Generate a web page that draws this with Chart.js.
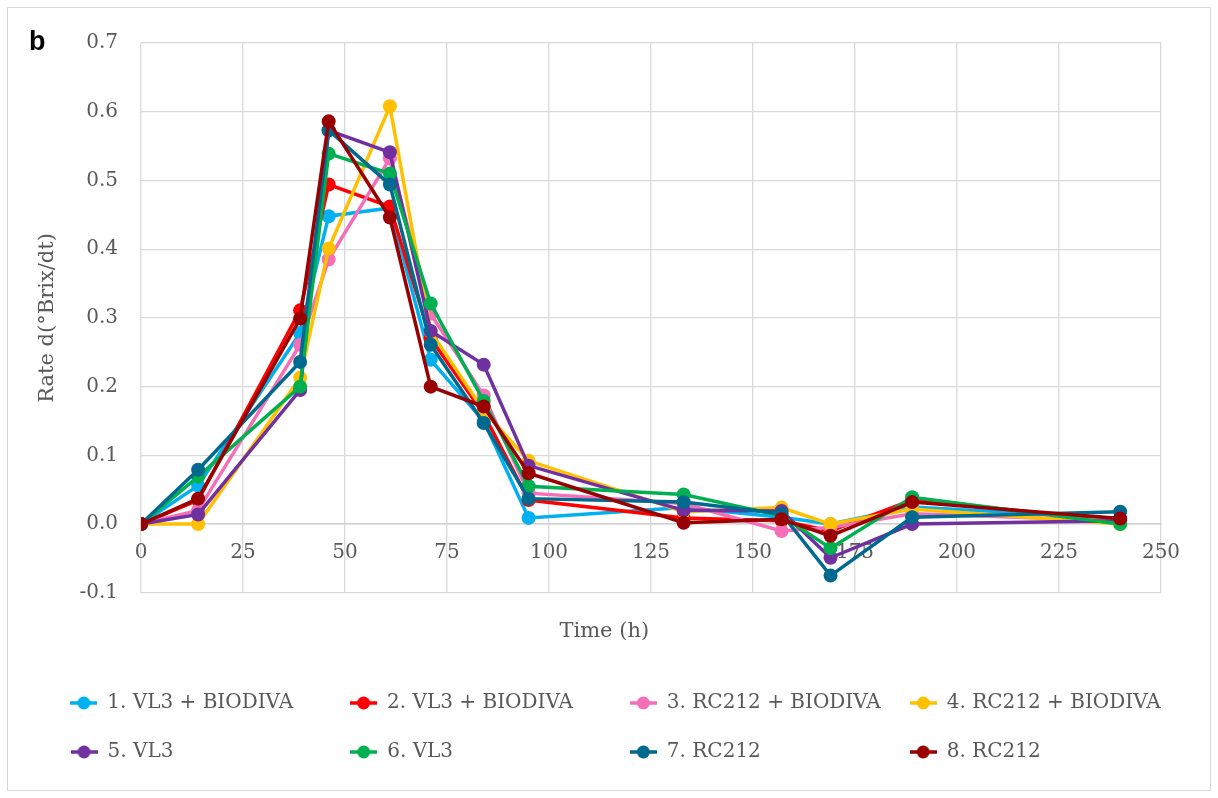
<!DOCTYPE html>
<html>
<head>
    <meta charset="utf-8">
    <title>Rate d(°Brix/dt)</title>
    <script src="https://cdn.jsdelivr.net/npm/chart.js"></script>
    <style>
        body { margin: 0; background: #fff; }
        #box { position: absolute; left: 7px; top: 7px; width: 1204px; height: 784px; border: 1px solid #d9d9d9; box-sizing: border-box; }
        #tag { position: absolute; left: 21px; top: 20px; font: bold 27px "Liberation Sans", Arial, sans-serif; line-height: 27px; color: #000; }
    </style>
</head>
<body>
    <div id="box">
        <canvas id="myChart" width="1202" height="782"></canvas>
        <div id="tag">b</div>
    </div>
    <script>
        // sampling times (h)
        const time = [0, 14, 39, 46, 61, 71, 84, 95, 133, 157, 169, 189, 240];

        // rate d(°Brix/dt) per trial
        const vl3Biodiva1   = [0, 0.056, 0.278, 0.448, 0.460, 0.239, 0.150, 0.009, 0.024, 0.010, 0.000, 0.025, 0.008];
        const vl3Biodiva2   = [0, 0.035, 0.311, 0.494, 0.462, 0.270, 0.160, 0.035, 0.009, 0.005, -0.010, 0.035, 0.005];
        const rc212Biodiva3 = [0, 0.020, 0.261, 0.385, 0.532, 0.306, 0.187, 0.045, 0.030, -0.010, -0.005, 0.015, 0.005];
        const rc212Biodiva4 = [0, 0.000, 0.213, 0.401, 0.608, 0.280, 0.165, 0.092, 0.018, 0.024, 0.000, 0.022, 0.000];
        const vl3_5         = [0, 0.014, 0.195, 0.573, 0.541, 0.281, 0.232, 0.085, 0.020, 0.019, -0.049, 0.000, 0.005];
        const vl3_6         = [0, 0.069, 0.200, 0.539, 0.510, 0.321, 0.179, 0.055, 0.043, 0.012, -0.035, 0.039, 0.000];
        const rc212_7       = [0, 0.079, 0.236, 0.573, 0.494, 0.261, 0.147, 0.037, 0.032, 0.015, -0.075, 0.010, 0.018];
        const rc212_8       = [0, 0.037, 0.299, 0.586, 0.446, 0.200, 0.171, 0.074, 0.002, 0.007, -0.017, 0.032, 0.008];

        const seriesNames = ['1. VL3 + BIODIVA', '2. VL3 + BIODIVA', '3. RC212 + BIODIVA', '4. RC212 + BIODIVA',
                             '5. VL3', '6. VL3', '7. RC212', '8. RC212'];
        const seriesValues = [vl3Biodiva1, vl3Biodiva2, rc212Biodiva3, rc212Biodiva4, vl3_5, vl3_6, rc212_7, rc212_8];
        const seriesColors = ['#00B0F0', '#FF0000', '#F46EB8', '#FFC000', '#7030A0', '#00B050', '#00698F', '#990000'];

        const tickFont = {family: '"DejaVu Serif", serif', size: 20};
        const legendFont = {family: '"DejaVu Serif", serif', size: 20};
        const titleFont = {family: '"DejaVu Serif", serif', size: 21};
        const grey = '#595959';
        const gridGrey = '#d9d9d9';

        // legend marker: short line with a dot, like the spreadsheet legend
        function legendMarker(color) {
            const c = document.createElement('canvas');
            c.width = 27; c.height = 16;
            const g = c.getContext('2d');
            g.strokeStyle = color; g.lineWidth = 3.5;
            g.beginPath(); g.moveTo(0, 8); g.lineTo(27, 8); g.stroke();
            g.fillStyle = color;
            g.beginPath(); g.arc(13.5, 8, 6.5, 0, Math.PI * 2); g.fill();
            return c;
        }
        const markers = seriesColors.map(legendMarker);

        // pad legend texts so the items line up in four columns
        const meas = document.createElement('canvas').getContext('2d');
        meas.font = legendFont.size + 'px ' + legendFont.family;
        const colText = Math.max(213, ...seriesNames.map(s => meas.measureText(s).width));
        function padLabel(s) {
            while (meas.measureText(s).width < colText - 1) s += '\u2009';
            return s;
        }

        const ctx = document.getElementById('myChart').getContext('2d');
        new Chart(ctx, {
            type: 'line',
            data: {
                datasets: seriesNames.map((name, i) => ({
                    label: name,
                    data: time.map((t, j) => ({x: t, y: seriesValues[i][j]})),
                    xAxisID: 'x',
                    yAxisID: 'y',
                    borderColor: seriesColors[i],
                    backgroundColor: seriesColors[i],
                    borderWidth: 3.5,
                    pointRadius: 7,
                    pointBorderWidth: 0,
                    tension: 0,
                    fill: false,
                    order: seriesNames.length - i   // last series on top
                }))
            },
            options: {
                responsive: false,
                animation: false,
                devicePixelRatio: 1,
                layout: {padding: {top: 28, right: 0, bottom: 18, left: 13}},
                scales: {
                    x: {
                        type: 'linear',
                        position: {y: 0},   // axis labels sit under the zero line
                        min: 0, max: 250,
                        ticks: {stepSize: 25, padding: 17, color: grey, font: tickFont},
                        grid: {color: gridGrey, lineWidth: 1.3, drawTicks: false},
                        border: {color: '#d0d0d0', width: 1.5}
                    },
                    x2: {
                        type: 'linear', axis: 'x',
                        position: 'bottom',
                        min: 0, max: 250,
                        ticks: {display: false},
                        grid: {display: false, drawTicks: false},
                        border: {display: false},
                        title: {display: true, text: 'Time (h)' + ' '.repeat(14), color: grey, font: titleFont,
                                padding: {top: 26, bottom: 20}}
                    },
                    y: {
                        min: -0.1, max: 0.7,
                        afterFit: s => { s.width = 120; },
                        ticks: {stepSize: 0.1, padding: 23, color: grey, font: tickFont,
                                callback: v => (Math.abs(v) < 1e-9 ? 0 : v).toFixed(1)},
                        grid: {color: gridGrey, lineWidth: 1.3, drawTicks: false},
                        border: {display: false},
                        title: {display: true, text: 'Rate d(°Brix/dt)', color: grey, font: titleFont,
                                padding: {top: 14, bottom: 0}}
                    },
                    // empty right-hand strip, keeps the plot clear of the frame
                    y2: {
                        type: 'linear', axis: 'y',
                        position: 'right',
                        afterFit: s => { s.width = 49; },
                        ticks: {display: false},
                        grid: {display: false, drawTicks: false},
                        border: {display: false}
                    }
                },
                plugins: {
                    tooltip: {enabled: false},
                    legend: {
                        position: 'bottom',
                        labels: {
                            usePointStyle: true,
                            pointStyleWidth: 27,
                            padding: 29,
                            color: grey,
                            font: legendFont,
                            generateLabels: chart => chart.data.datasets.map((ds, i) => ({
                                text: padLabel(ds.label),
                                fillStyle: ds.borderColor,
                                strokeStyle: ds.borderColor,
                                lineWidth: 0,
                                pointStyle: markers[i],
                                fontColor: grey,
                                hidden: !chart.isDatasetVisible(i),
                                datasetIndex: i
                            }))
                        }
                    }
                }
            }
        });
    </script>
</body>
</html>
